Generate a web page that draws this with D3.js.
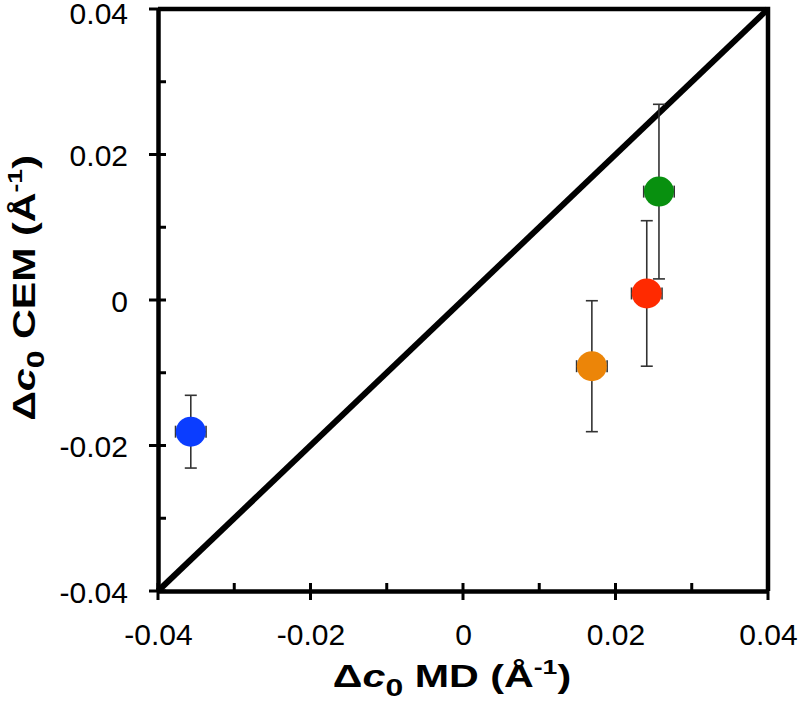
<!DOCTYPE html>
<html>
<head>
<meta charset="utf-8">
<script src="https://cdn.jsdelivr.net/npm/d3@7"></script>
<style>
  html, body { margin: 0; padding: 0; background: #fff; }
  svg { display: block; font-family: "Liberation Sans", Arial, sans-serif; }
</style>
</head>
<body>
<svg id="chart" width="800" height="707"></svg>
<script>
// ---- data ----
const names   = ["blue", "orange", "red", "green"];
const xValues = [-0.0357, 0.0169, 0.0241, 0.0257];
const yValues = [-0.0181, -0.0091, 0.0009, 0.0149];
const yErrors = [0.0050, 0.0090, 0.0100, 0.0120];
const xErrors = [0.0020, 0.0020, 0.0020, 0.0020];
const colors  = ["#0b3dff", "#ec8508", "#ff2a00", "#08900f"];
const majorTicks = [-0.04, -0.02, 0, 0.02, 0.04];
const minorTicks = [-0.03, -0.01, 0.01, 0.03];
const tickLabels = ["-0.04", "-0.02", "0", "0.02", "0.04"];

(function () {
const svg = d3.select("#chart");
const pL = 158, pR = 768, pT = 9, pB = 591;

const x = d3.scaleLinear().domain([-0.04, 0.04]).range([pL, pR]);
const y = d3.scaleLinear().domain([-0.04, 0.04]).range([pB, pT]);

// frame (top/right)
svg.append("path")
  .attr("d", `M${pL},${pT}H${pR}V${pB}`)
  .attr("fill", "none").attr("stroke", "#000").attr("stroke-width", 4.5);

// diagonal y = x
svg.append("line")
  .attr("x1", x(-0.04)).attr("y1", y(-0.04))
  .attr("x2", x(0.04)).attr("y2", y(0.04))
  .attr("stroke", "#000").attr("stroke-width", 6);

// axes
const fmt = d => tickLabels[majorTicks.indexOf(d)];
const xAxis = d3.axisBottom(x).tickValues(majorTicks).tickFormat(fmt).tickSize(0).tickPadding(33);
const yAxis = d3.axisLeft(y).tickValues(majorTicks).tickFormat(fmt).tickSize(0).tickPadding(30);

const gx = svg.append("g").attr("transform", `translate(0,${pB})`).call(xAxis);
const gy = svg.append("g").attr("transform", `translate(${pL},0)`).call(yAxis);
[gx, gy].forEach(g => {
  g.select(".domain").attr("stroke", "#000").attr("stroke-width", 4.5);
  g.selectAll("text").attr("font-size", 30).attr("fill", "#000")
    .attr("font-family", "'Liberation Sans', Arial, sans-serif");
});
gy.selectAll("text").attr("dy", "0.37em");
gy.selectAll(".tick").filter(d => d === 0.04).select("text").attr("y", 3);

// major ticks (crossing) and minor ticks (inside)
gx.selectAll(".maj").data(majorTicks).join("line").attr("class", "maj")
  .attr("x1", d => x(d)).attr("x2", d => x(d)).attr("y1", -8).attr("y2", 9)
  .attr("stroke", "#000").attr("stroke-width", 3);
gx.selectAll(".min").data(minorTicks).join("line").attr("class", "min")
  .attr("x1", d => x(d)).attr("x2", d => x(d)).attr("y1", -8).attr("y2", 0)
  .attr("stroke", "#000").attr("stroke-width", 3);
gy.selectAll(".maj").data(majorTicks).join("line").attr("class", "maj")
  .attr("y1", d => y(d)).attr("y2", d => y(d)).attr("x1", -9).attr("x2", 8)
  .attr("stroke", "#000").attr("stroke-width", 3);
gy.selectAll(".min").data(minorTicks).join("line").attr("class", "min")
  .attr("y1", d => y(d)).attr("y2", d => y(d)).attr("x1", 0).attr("x2", 8)
  .attr("stroke", "#000").attr("stroke-width", 3);

// data points
const data = names.map((n, i) => ({ n, x: xValues[i], y: yValues[i], ey: yErrors[i], ex: xErrors[i], c: colors[i] }));
const eb = svg.append("g").attr("stroke", "#333").attr("stroke-width", 1.6);
const cap = 6;
data.forEach(d => {
  eb.append("line").attr("x1", x(d.x)).attr("x2", x(d.x)).attr("y1", y(d.y - d.ey)).attr("y2", y(d.y + d.ey));
  eb.append("line").attr("x1", x(d.x) - cap).attr("x2", x(d.x) + cap).attr("y1", y(d.y - d.ey)).attr("y2", y(d.y - d.ey));
  eb.append("line").attr("x1", x(d.x) - cap).attr("x2", x(d.x) + cap).attr("y1", y(d.y + d.ey)).attr("y2", y(d.y + d.ey));
  eb.append("line").attr("x1", x(d.x - d.ex)).attr("x2", x(d.x + d.ex)).attr("y1", y(d.y)).attr("y2", y(d.y));
  eb.append("line").attr("x1", x(d.x - d.ex)).attr("x2", x(d.x - d.ex)).attr("y1", y(d.y) - cap).attr("y2", y(d.y) + cap);
  eb.append("line").attr("x1", x(d.x + d.ex)).attr("x2", x(d.x + d.ex)).attr("y1", y(d.y) - cap).attr("y2", y(d.y) + cap);
});
svg.append("g").selectAll("circle").data(data).join("circle")
  .attr("cx", d => x(d.x)).attr("cy", d => y(d.y)).attr("r", 15)
  .attr("fill", d => d.c);

// axis titles
function title(sel, italicC) {
  sel.attr("text-anchor", "middle").attr("font-size", 31).attr("font-weight", "bold").attr("fill", "#000");
  sel.append("tspan").text("Δ");
  sel.append("tspan").attr("font-style", italicC ? "italic" : null).text("c");
  sel.append("tspan").attr("font-size", 24).attr("dy", 9).text("0");
  sel.append("tspan").attr("dy", -9).text(" ");
  return sel;
}
const xt = title(svg.append("text").attr("transform", "translate(452,687) scale(1.33,1)"), true);
xt.append("tspan").text("MD (Å");
xt.append("tspan").attr("font-size", 20).attr("dy", -13).text("-1");
xt.append("tspan").attr("dy", 13).text(")");

const yt = title(svg.append("text").attr("transform", "translate(35,288) rotate(-90) scale(1.33,1)"), true);
yt.append("tspan").text("CEM (Å");
yt.append("tspan").attr("font-size", 20).attr("dy", -13).text("-1");
yt.append("tspan").attr("dy", 13).text(")");
})();
</script>
</body>
</html>
